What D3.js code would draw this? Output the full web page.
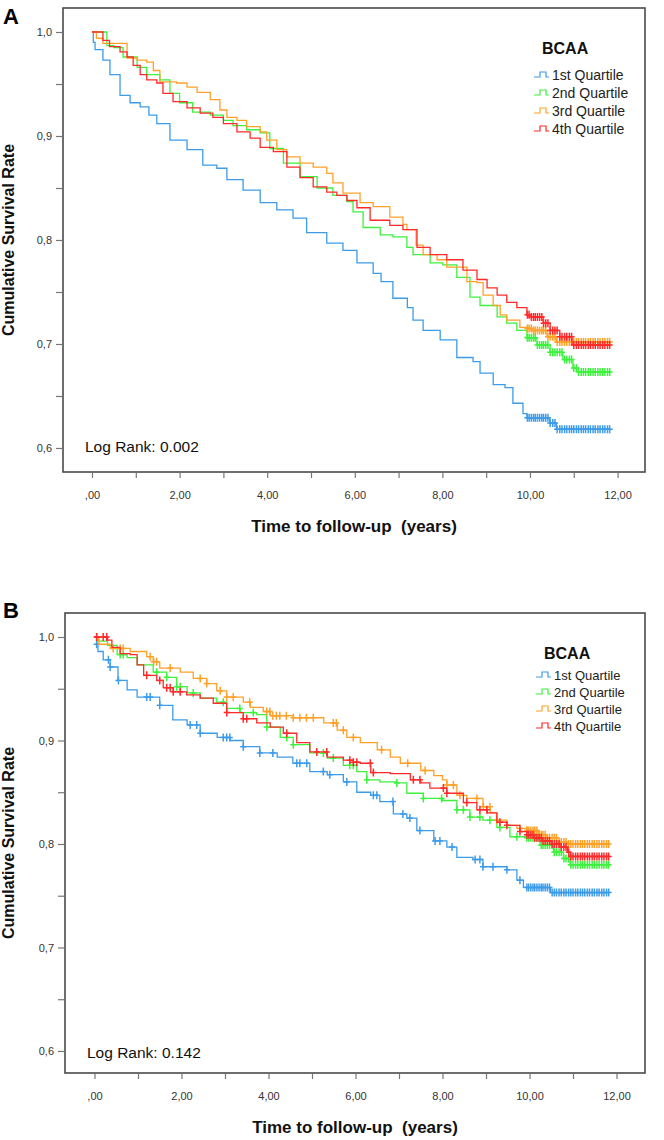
<!DOCTYPE html>
<html><head><meta charset="utf-8">
<script src="https://cdn.jsdelivr.net/npm/d3@7"></script>
<style>body{margin:0;background:#fff}svg{display:block}</style>
</head><body><svg id="c" width="664" height="1140"></svg>
<script>
// ---------- data ----------
const quartiles = ["1st Quartile","2nd Quartile","3rd Quartile","4th Quartile"];
const colors = ["#3d9ce9","#3cf23c","#ffa128","#ff2a2a"];
const xTicks = [0,1,2,3,4,5,6,7,8,9,10,11,12];
const xTickLabels = {0:",00",2:"2,00",4:"4,00",6:"6,00",8:"8,00",10:"10,00",12:"12,00"};
const yTicks = [0.6,0.65,0.7,0.75,0.8,0.85,0.9,0.95,1.0];
const yTickLabels = {"0.6":"0,6","0.7":"0,7","0.8":"0,8","0.9":"0,9","1":"1,0"};
const endTime = 11.83;

// Panel A step curves: [years, survival]
const a1 = [[0,1],[0.03,0.99],[0.07,0.983],[0.25,0.973],[0.41,0.959],[0.64,0.939],[0.87,0.932],[1.1,0.928],[1.3,0.92],[1.48,0.912],[1.78,0.896],[2.17,0.887],[2.53,0.872],[2.85,0.869],[3.08,0.858],[3.45,0.848],[3.84,0.836],[4.22,0.829],[4.59,0.821],[4.9,0.807],[5.36,0.797],[5.73,0.79],[6.05,0.778],[6.42,0.768],[6.6,0.76],[6.87,0.744],[7.2,0.735],[7.33,0.723],[7.56,0.713],[7.95,0.704],[8.33,0.687],[8.7,0.683],[8.86,0.672],[9.16,0.661],[9.43,0.658],[9.61,0.643],[9.84,0.633],[9.93,0.629],[10.45,0.624],[10.6,0.618]];
const a2 = [[0,1],[0.34,0.987],[0.5,0.985],[0.71,0.976],[1.03,0.966],[1.25,0.959],[1.55,0.954],[1.78,0.941],[2.0,0.932],[2.3,0.923],[2.7,0.92],[3.0,0.915],[3.22,0.91],[3.53,0.906],[3.84,0.903],[4.06,0.888],[4.37,0.874],[4.75,0.861],[5.14,0.85],[5.5,0.843],[5.82,0.837],[5.96,0.827],[6.19,0.812],[6.58,0.805],[6.87,0.803],[7.19,0.793],[7.33,0.786],[7.72,0.778],[8.01,0.776],[8.33,0.764],[8.63,0.745],[8.86,0.737],[9.25,0.726],[9.47,0.72],[9.7,0.713],[9.93,0.706],[10.16,0.699],[10.46,0.692],[10.75,0.685],[10.98,0.677],[11.1,0.673]];
const a3 = [[0,1],[0.1,0.994],[0.25,0.989],[0.8,0.975],[1.03,0.973],[1.25,0.971],[1.4,0.963],[1.55,0.952],[1.93,0.951],[2.17,0.947],[2.4,0.942],[2.7,0.935],[2.92,0.925],[3.08,0.918],[3.31,0.915],[3.53,0.909],[3.84,0.904],[3.99,0.896],[4.22,0.887],[4.45,0.88],[4.75,0.874],[5.05,0.87],[5.36,0.864],[5.5,0.855],[5.73,0.845],[6.12,0.836],[6.42,0.832],[6.8,0.822],[7.1,0.815],[7.19,0.81],[7.4,0.795],[7.56,0.786],[7.88,0.781],[8.1,0.774],[8.56,0.76],[8.79,0.759],[8.93,0.747],[9.16,0.737],[9.32,0.728],[9.47,0.723],[9.77,0.716],[9.93,0.715],[10.07,0.713],[10.39,0.707],[10.6,0.702]];
const a4 = [[0,1],[0.25,0.992],[0.4,0.986],[0.64,0.981],[0.8,0.976],[0.94,0.968],[1.1,0.959],[1.25,0.954],[1.48,0.951],[1.62,0.941],[1.85,0.933],[2.17,0.927],[2.47,0.922],[2.76,0.918],[3.0,0.912],[3.31,0.904],[3.61,0.898],[3.84,0.889],[4.14,0.885],[4.45,0.87],[4.75,0.86],[5.05,0.851],[5.36,0.846],[5.59,0.843],[5.82,0.838],[6.05,0.831],[6.35,0.819],[6.8,0.814],[7.1,0.81],[7.42,0.793],[7.72,0.786],[8.1,0.781],[8.47,0.771],[8.79,0.762],[9.02,0.754],[9.25,0.747],[9.47,0.74],[9.7,0.735],[9.93,0.728],[10.0,0.726],[10.3,0.72],[10.46,0.713],[10.68,0.707],[10.96,0.699]];

// Panel B step curves
const b1 = [[0,1],[0.05,0.993],[0.08,0.986],[0.2,0.978],[0.36,0.971],[0.54,0.958],[0.75,0.949],[0.98,0.942],[1.5,0.934],[1.8,0.92],[2.13,0.915],[2.43,0.907],[2.82,0.903],[3.12,0.9],[3.42,0.894],[3.8,0.888],[4.2,0.884],[4.56,0.878],[4.95,0.87],[5.35,0.867],[5.72,0.86],[6.03,0.85],[6.35,0.847],[6.56,0.841],[6.87,0.829],[7.18,0.825],[7.41,0.813],[7.8,0.803],[8.1,0.797],[8.33,0.787],[8.7,0.785],[8.93,0.778],[9.48,0.775],[9.71,0.765],[9.86,0.758],[10.48,0.753]];
const b2 = [[0,1],[0.1,0.996],[0.3,0.992],[0.52,0.983],[0.75,0.98],[0.98,0.973],[1.35,0.966],[1.66,0.961],[1.89,0.952],[2.13,0.946],[2.43,0.941],[2.81,0.937],[3.04,0.931],[3.35,0.927],[3.73,0.925],[3.96,0.913],[4.27,0.903],[4.57,0.896],[4.95,0.888],[5.35,0.883],[5.72,0.876],[6.03,0.87],[6.26,0.862],[6.56,0.86],[6.95,0.859],[7.18,0.849],[7.56,0.844],[8.0,0.842],[8.33,0.833],[8.63,0.826],[8.93,0.823],[9.25,0.816],[9.55,0.807],[9.94,0.806],[10.24,0.799],[10.55,0.792],[10.78,0.786],[10.93,0.78]];
const b3 = [[0,1],[0.1,0.993],[0.36,0.989],[0.82,0.986],[1.2,0.981],[1.35,0.976],[1.5,0.97],[1.97,0.966],[2.27,0.96],[2.58,0.955],[2.81,0.948],[3.04,0.942],[3.42,0.937],[3.58,0.932],[3.88,0.928],[4.04,0.924],[4.57,0.922],[5.27,0.917],[5.58,0.91],[5.8,0.903],[6.11,0.898],[6.5,0.891],[6.8,0.884],[7.03,0.878],[7.5,0.871],[7.8,0.866],[8.0,0.862],[8.1,0.857],[8.33,0.847],[8.56,0.844],[8.93,0.836],[9.1,0.83],[9.25,0.823],[9.48,0.818],[9.71,0.815],[9.94,0.813],[10.2,0.809],[10.4,0.806],[10.63,0.802],[10.9,0.8]];
const b4 = [[0,1],[0.3,0.997],[0.4,0.99],[0.59,0.984],[0.82,0.983],[0.98,0.973],[1.13,0.963],[1.43,0.958],[1.58,0.951],[1.81,0.947],[2.12,0.944],[2.43,0.941],[2.73,0.936],[3.04,0.927],[3.42,0.921],[3.73,0.917],[4.04,0.913],[4.34,0.907],[4.65,0.898],[4.95,0.889],[5.35,0.884],[5.72,0.881],[5.95,0.879],[6.11,0.878],[6.35,0.869],[6.8,0.868],[7.26,0.862],[7.5,0.859],[7.71,0.854],[8.1,0.849],[8.48,0.84],[8.79,0.833],[9.03,0.83],[9.25,0.821],[9.48,0.818],[9.78,0.812],[9.94,0.809],[10.1,0.806],[10.3,0.803],[10.5,0.8],[10.7,0.797],[10.87,0.792],[10.94,0.788]];

// Censoring times (years)
const lateCensor = [9.94,9.98,10.03,10.08,10.12,10.17,10.22,10.27,10.31,10.36,10.41,10.46,10.52,10.57,10.62,10.68,10.73,10.79,10.84,10.9,10.95,11.0,11.06,11.11,11.17,11.22,11.27,11.33,11.38,11.44,11.49,11.55,11.6,11.66,11.71,11.77,11.82];
const cB1 = [0.05,0.32,0.36,0.55,1.2,1.28,1.5,2.2,2.35,2.43,2.96,3.04,3.11,3.42,3.8,4.1,4.65,4.72,4.88,5.26,5.41,5.8,6.41,6.49,6.86,7.09,7.25,7.48,7.83,7.94,8.22,8.75,8.86,8.93,9.16,9.48,9.78];
const cB2 = [0.59,0.66,1.43,1.66,1.89,1.97,2.27,2.96,3.34,3.65,3.96,4.42,4.57,5.26,5.49,5.87,5.95,6.26,6.95,7.56,7.98,8.33,8.48,8.63,8.86,9.09,9.32,9.71];
const cB3 = [0.05,0.43,0.59,0.66,1.28,1.36,1.43,1.74,2.43,2.58,2.89,3.04,3.19,3.57,3.96,4.03,4.1,4.18,4.26,4.41,4.57,4.72,4.87,5.03,5.49,5.56,5.72,5.95,6.6,7.2,7.6,8.1,8.25,8.4,8.79,8.94,9.09,9.25,9.78,9.94];
const cB4 = [0.05,0.2,0.28,1.2,1.5,1.66,1.74,1.81,1.97,3.04,3.42,3.5,4.42,5.11,5.34,5.87,5.95,6.03,6.34,6.41,7.33,7.48,8.02,8.1,8.56,8.86,9.02,9.32,9.48,9.78];

// ---------- drawing ----------
const svg = d3.select("#c");
const tickFont = "'Liberation Sans', Arial, sans-serif";
const titleFont = "'Liberation Sans Narrow', 'Arial Narrow', 'Liberation Sans', sans-serif";

function drawPanel(o) {
  const x = d3.scaleLinear().domain(o.xDomain).range([o.left, o.right]);
  const y = d3.scaleLinear().domain(o.yDomain).range([o.bottom, o.top]);
  const g = svg.append("g");

  g.append("text").attr("x", o.letterX).attr("y", o.letterY)
    .attr("font-family", tickFont).attr("font-weight", "bold")
    .attr("font-size", 22).attr("fill", "#000").text(o.letter);

  g.append("rect").attr("x", o.left).attr("y", o.top)
    .attr("width", o.right - o.left).attr("height", o.bottom - o.top)
    .attr("fill", "#fff").attr("stroke", "#4a4a4a").attr("stroke-width", 1.6);

  const xa = d3.axisBottom(x).tickValues(xTicks).tickSize(5).tickPadding(13)
    .tickFormat(d => xTickLabels[d] || "");
  const xg = g.append("g").attr("transform", `translate(0,${o.bottom + 1})`).call(xa);
  xg.select(".domain").remove();
  xg.selectAll(".tick line").attr("stroke", "#777").attr("stroke-width", 1.2);
  xg.selectAll("text").attr("font-family", tickFont).attr("font-size", 11).attr("fill", "#333");

  const ya = d3.axisLeft(y).tickValues(yTicks).tickSize(6).tickPadding(4)
    .tickFormat(d => yTickLabels[String(+d.toFixed(2))] || "");
  const yg = g.append("g").attr("transform", `translate(${o.left - 1},0)`).call(ya);
  yg.select(".domain").remove();
  yg.selectAll(".tick line").attr("stroke", "#777").attr("stroke-width", 1.2);
  yg.selectAll("text").attr("font-family", tickFont).attr("font-size", 11).attr("fill", "#333");

  g.append("text").attr("x", (o.left + o.right) / 2).attr("y", o.xTitleY)
    .attr("text-anchor", "middle").attr("font-family", titleFont).attr("font-weight", "bold")
    .attr("font-size", 17).attr("fill", "#111").style("white-space", "pre")
    .text("Time to follow-up  (years)");
  g.append("text").attr("transform", `translate(${o.yTitleX},${(o.top + o.bottom) / 2}) rotate(-90)`)
    .attr("text-anchor", "middle").attr("font-family", titleFont).attr("font-weight", "bold")
    .attr("font-size", 16).attr("fill", "#111").text("Cumulative Survival Rate");

  const line = d3.line().x(d => x(d[0])).y(d => y(d[1])).curve(d3.curveStepAfter);
  const bis = d3.bisector(d => d[0]).right;
  o.series.forEach((s, i) => {
    const pts = s.concat([[endTime, s[s.length - 1][1]]]);
    g.append("path").attr("d", line(pts)).attr("fill", "none")
      .attr("stroke", colors[i]).attr("stroke-width", 1.3);
    const cg = g.append("g");
    o.censors[i].forEach(t => {
      const v = s[Math.max(0, bis(s, t) - 1)][1];
      cg.append("path").attr("transform", `translate(${x(t)},${y(v)})`)
        .attr("d", "M-3,0H3M0,-4V4").attr("stroke", colors[i]).attr("stroke-width", 1.5)
        .attr("fill", "none");
    });
  });

  const lg = g.append("g");
  lg.append("text").attr("x", o.legX + 8).attr("y", o.legTitleY)
    .attr("font-family", tickFont).attr("font-weight", "bold").attr("font-size", 16)
    .attr("fill", "#111").text("BCAA");
  quartiles.forEach((q, i) => {
    const cy = o.legY0 + i * o.legStep;
    lg.append("path").attr("d", `M${o.legX},${cy + 2}h6v-5h6v5h3`)
      .attr("fill", "none").attr("stroke", colors[i]).attr("stroke-width", 1.2);
    lg.append("text").attr("x", o.legX + 18).attr("y", cy + o.legFont * 0.36)
      .attr("font-family", tickFont).attr("font-size", o.legFont).attr("fill", "#222").text(q);
  });

  g.append("text").attr("x", o.left + 22).attr("y", o.logY)
    .attr("font-family", tickFont).attr("font-size", 15.5).attr("fill", "#111").text(o.logText);
}

drawPanel({
  letter: "A", letterX: 3, letterY: 24,
  left: 63, right: 645, top: 8, bottom: 472,
  xDomain: [-0.662, 12.626], yDomain: [0.5769, 1.0231],
  xTitleY: 532, yTitleX: 14,
  series: [a1, a2, a3, a4], censors: [lateCensor, lateCensor, lateCensor, lateCensor],
  legX: 534, legTitleY: 54, legY0: 75, legStep: 18, legFont: 14,
  logY: 452, logText: "Log Rank: 0.002"
});

drawPanel({
  letter: "B", letterX: 3, letterY: 618,
  left: 65, right: 645, top: 613, bottom: 1073,
  xDomain: [-0.678, 12.655], yDomain: [0.5787, 1.0232],
  xTitleY: 1133, yTitleX: 14,
  series: [b1, b2, b3, b4],
  censors: [cB1.concat(lateCensor), cB2.concat(lateCensor), cB3.concat(lateCensor), cB4.concat(lateCensor)],
  legX: 536, legTitleY: 659, legY0: 675, legStep: 17, legFont: 13,
  logY: 1058, logText: "Log Rank: 0.142"
});
</script>
</body></html>
